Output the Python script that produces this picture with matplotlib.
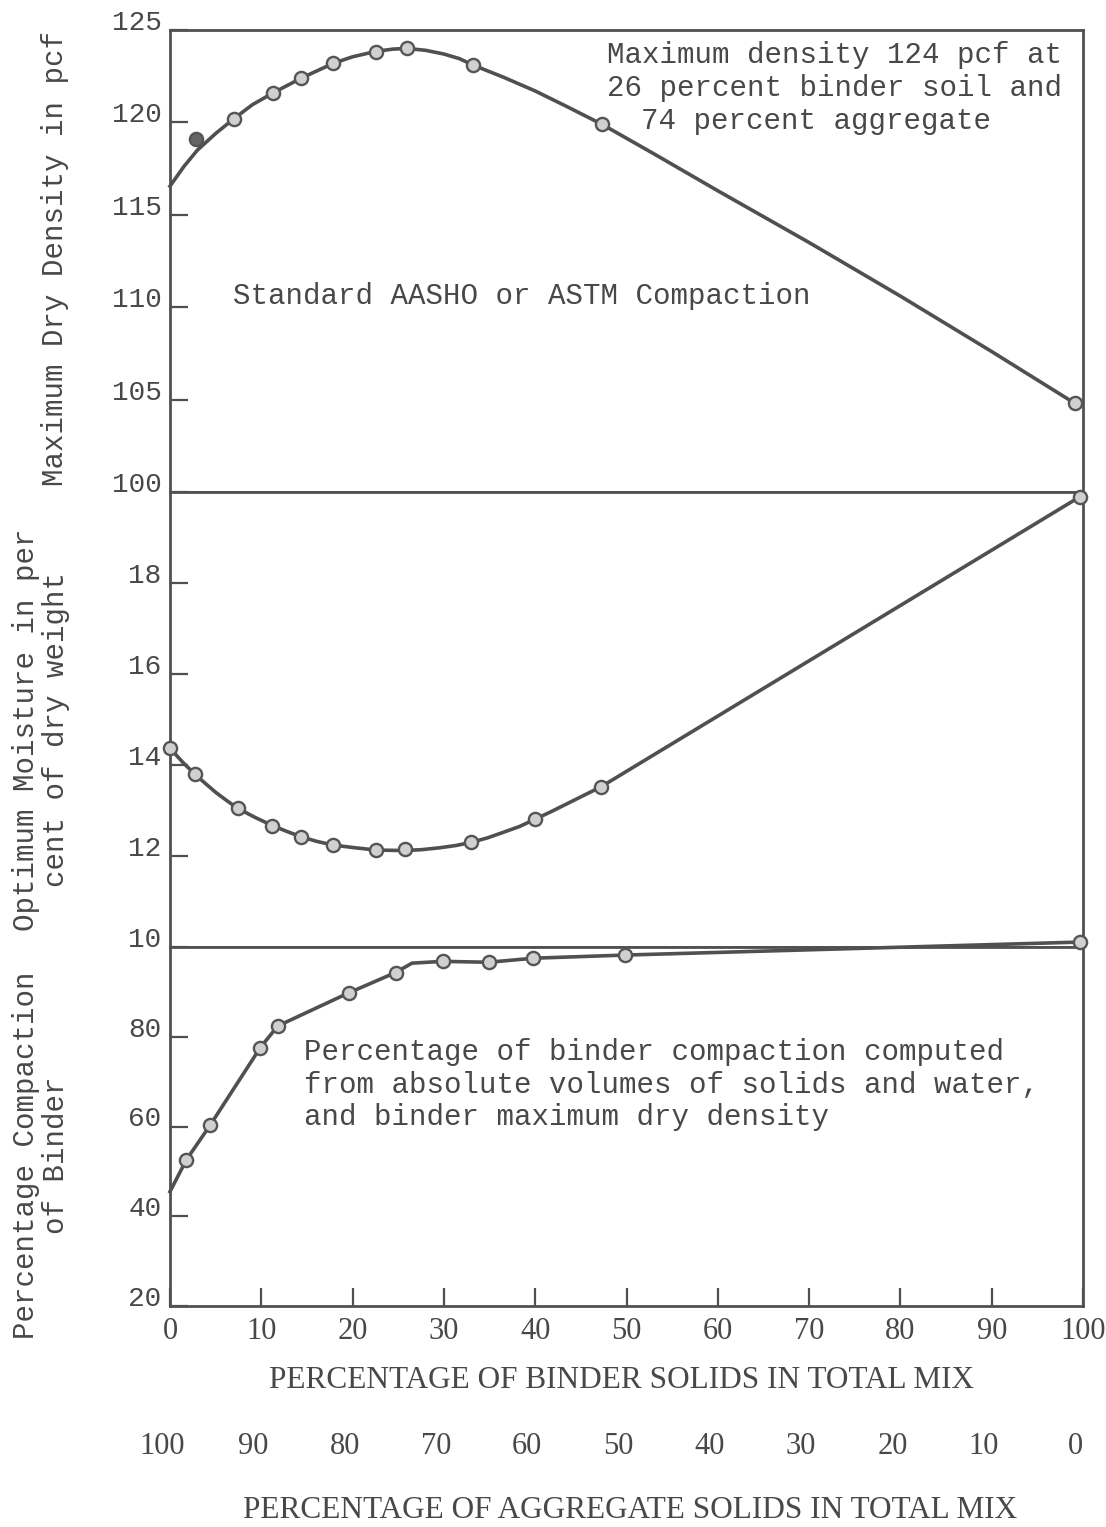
import matplotlib.pyplot as plt

plt.rcParams['font.family'] = ['Liberation Mono', 'DejaVu Sans Mono']

INK = '#505050'
TXT = '#484848'

# binder solids (%) vs max dry density (pcf)
dens_x = [2.9, 7.0, 11.3, 14.4, 17.9, 22.6, 26.0, 33.2, 47.3, 99.1]
dens_y = [119.1, 120.2, 121.6, 122.4, 123.2, 123.8, 124.0, 123.1, 119.9, 104.8]
dens_curve_x = [0, 1.5, 3, 5, 7, 9, 11.3, 14.4, 17.9, 20, 22.6, 24.5, 26, 28, 30, 31.7,
                33.2, 36.5, 40, 43.5, 47.3, 53, 60, 70, 80, 90, 99.1]
dens_curve_y = [116.55, 117.6, 118.5, 119.4, 120.2, 120.95, 121.6, 122.4, 123.2, 123.55,
                123.85, 123.97, 124.0, 123.9, 123.7, 123.45, 123.1, 122.45, 121.7, 120.85,
                119.9, 118.3, 116.3, 113.5, 110.6, 107.6, 104.8]

# optimum moisture (% of dry weight)
moist_x = [0, 2.7, 7.4, 11.2, 14.4, 17.9, 22.6, 25.7, 33.0, 40.0, 47.2, 99.7]
moist_y = [14.37, 13.80, 13.05, 12.67, 12.42, 12.24, 12.13, 12.15, 12.30, 12.81, 13.52, 19.9]
moist_curve_x = [0, 1.3, 2.7, 3.9, 5, 6.2, 7.4, 9.3, 11.2, 12.8, 14.4, 16.1, 17.9, 20.3,
                 22.6, 25.7, 27.6, 29.5, 31.3, 33, 34.8, 36.5, 38.3, 40, 41.8, 43.5, 45.3,
                 47.2, 99.7]
moist_curve_y = [14.37, 14.08, 13.8, 13.59, 13.4, 13.22, 13.05, 12.85, 12.67, 12.54, 12.42,
                 12.32, 12.24, 12.18, 12.13, 12.12, 12.14, 12.18, 12.23, 12.30, 12.40, 12.52,
                 12.65, 12.81, 12.98, 13.15, 13.33, 13.52, 19.9]

# percentage compaction of binder
comp_x = [1.8, 4.4, 9.9, 11.8, 19.6, 24.7, 29.9, 34.9, 39.8, 49.8, 99.7]
comp_y = [52.6, 60.3, 77.6, 82.4, 89.8, 94.3, 96.8, 96.6, 97.5, 98.2, 101.1]
comp_curve_x = [0, 1.8, 4.4, 9.9, 11.8, 19.6, 24.7, 26.5, 29.9, 34.9, 39.8, 49.8, 99.7]
comp_curve_y = [45.5, 52.6, 60.3, 77.6, 82.4, 89.8, 94.3, 96.4, 96.8, 96.6, 97.5, 98.2, 101.1]

binder_ticks = [0, 10, 20, 30, 40, 50, 60, 70, 80, 90, 100]
aggregate_labels = [100, 90, 80, 70, 60, 50, 40, 30, 20, 10, 0]

W, H = 1106, 1527
fig = plt.figure(figsize=(W / 100, H / 100), dpi=100)

left, right = 170 / W, 1083 / W


def panel(top_px, bot_px):
    return fig.add_axes([left, 1 - bot_px / H, right - left, (bot_px - top_px) / H])


ax1 = panel(30, 492)
ax2 = panel(492, 947)
ax3 = panel(947, 1306)

for ax in (ax1, ax2, ax3):
    ax.set_xlim(0, 100)
    for s in ax.spines.values():
        s.set_color(INK)
        s.set_linewidth(2.0)
    ax.tick_params(axis='y', direction='in', length=13, width=1.6, color=INK,
                   labelsize=20, labelcolor=TXT, pad=6, right=False)
    ax.tick_params(axis='x', direction='in', length=13, width=1.6, color=INK,
                   top=False)

mk = dict(marker='o', ms=9.5, mfc='#d0d0d0', mec='#555555', mew=1.7,
          ls='none', clip_on=False, zorder=4)
ln = dict(color=INK, lw=2.6, clip_on=False, zorder=3, solid_joinstyle='round')

# density panel
ax1.plot(dens_curve_x, dens_curve_y, **ln)
ax1.plot(dens_x[1:], dens_y[1:], **mk)
ax1.plot(dens_x[:1], dens_y[:1], **{**mk, 'mfc': '#666666'})
ax1.set_ylim(100, 125)
ax1.set_yticks([100, 105, 110, 115, 120, 125])
ax1.set_xticks([])
ax1.text(47.9, 123.65, 'Maximum density 124 pcf at', fontsize=21, color=TXT, va='center')
ax1.text(47.9, 121.86, '26 percent binder soil and', fontsize=21, color=TXT, va='center')
ax1.text(51.6, 120.08, '74 percent aggregate', fontsize=21, color=TXT, va='center')
ax1.text(6.9, 110.6, 'Standard AASHO or ASTM Compaction', fontsize=21, color=TXT, va='center')

# moisture panel
ax2.plot(moist_curve_x, moist_curve_y, **ln)
ax2.plot(moist_x, moist_y, **mk)
ax2.set_ylim(10, 20)
ax2.set_yticks([10, 12, 14, 16, 18])
ax2.set_xticks([])

# compaction panel
ax3.plot(comp_curve_x, comp_curve_y, **ln)
ax3.plot(comp_x, comp_y, **mk)
ax3.set_ylim(20, 100)
ax3.set_yticks([20, 40, 60, 80])
ax3.set_xticks(binder_ticks)
ax3.set_xticklabels([str(t) for t in binder_ticks], family='Liberation Serif',
                    fontsize=22, color=TXT)
ax3.tick_params(axis='x', pad=8)
ax3.text(14.7, 76.6, 'Percentage of binder compaction computed', fontsize=21, color=TXT, va='center')
ax3.text(14.7, 69.2, 'from absolute volumes of solids and water,', fontsize=21, color=TXT, va='center')
ax3.text(14.7, 62.1, 'and binder maximum dry density', fontsize=21, color=TXT, va='center')

for ax in (ax1, ax2, ax3):
    for lab in ax.get_yticklabels():
        lab.set_verticalalignment('baseline')

# axis titles
fig.text(55 / W, 1 - 258 / H, 'Maximum Dry Density in pcf', rotation=90,
         fontsize=21, color=TXT, ha='center', va='center')
fig.text(41 / W, 1 - 730 / H, 'Optimum Moisture in per\ncent of dry weight', rotation=90,
         fontsize=21, color=TXT, ha='center', va='center', multialignment='center',
         linespacing=1.1)
fig.text(41 / W, 1 - 1155 / H, 'Percentage Compaction\nof Binder', rotation=90,
         fontsize=21, color=TXT, ha='center', va='center', multialignment='center',
         linespacing=1.1)

fig.text(622 / W, 1 - 1381 / H, 'PERCENTAGE OF BINDER SOLIDS IN TOTAL MIX',
         family='Liberation Serif', fontsize=22.5, color=TXT, ha='center', va='center')
# aggregate scale runs the other way under the binder ticks
for b, a in zip(binder_ticks, aggregate_labels):
    ax3.annotate(str(a), xy=(b, 0), xycoords=('data', 'axes fraction'),
                 xytext=(-8, -140), textcoords='offset pixels',
                 ha='center', va='center',
                 family='Liberation Serif', fontsize=22, color=TXT)
fig.text(630 / W, 1 - 1510 / H, 'PERCENTAGE OF AGGREGATE SOLIDS IN TOTAL MIX',
         family='Liberation Serif', fontsize=22.5, color=TXT, ha='center', va='center')

fig.savefig('out.png', dpi=100, facecolor='white')
